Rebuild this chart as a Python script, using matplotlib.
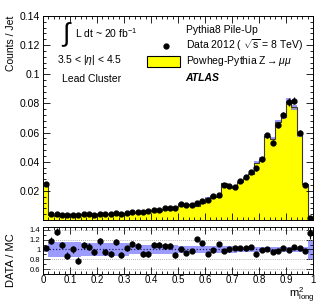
import numpy as np
import matplotlib
matplotlib.use("Agg")
import matplotlib.pyplot as plt
from matplotlib.ticker import MultipleLocator
from matplotlib.patches import Rectangle

plt.rcParams['font.family'] = ['Liberation Sans', 'DejaVu Sans']
plt.rcParams['mathtext.fontset'] = 'custom'
plt.rcParams['mathtext.rm'] = 'Liberation Sans'
plt.rcParams['mathtext.it'] = 'Liberation Sans:italic'

# binning: 50 bins of m^2_long in [0, 1]
bin_edges = np.linspace(0, 1, 51)

# data (Counts / Jet) per bin
data = [0.0247, 0.0040, 0.0038, 0.0036, 0.0033, 0.0036, 0.0031, 0.0040, 0.0038, 0.0036,
        0.0042, 0.0040, 0.0040, 0.0047, 0.0044, 0.0050, 0.0054, 0.0057, 0.0058, 0.0060,
        0.0068, 0.0071, 0.0080, 0.0082, 0.0080, 0.0112, 0.0100, 0.0100, 0.0118, 0.0133,
        0.0140, 0.0165, 0.0172, 0.0243, 0.0233, 0.0229, 0.0268, 0.0293, 0.0330, 0.0354,
        0.0416, 0.0583, 0.0530, 0.0650, 0.0720, 0.0810, 0.0820, 0.0600, 0.0240, 0.0016]

# Powheg-Pythia Z->mumu MC per bin
mc = [0.0238, 0.0034, 0.0028, 0.0033, 0.0038, 0.0036, 0.0040, 0.0037, 0.0036, 0.0038,
      0.0036, 0.0042, 0.0044, 0.0041, 0.0050, 0.0049, 0.0049, 0.0053, 0.0064, 0.0066,
      0.0062, 0.0065, 0.0075, 0.0077, 0.0090, 0.0112, 0.0108, 0.0103, 0.0097, 0.0118,
      0.0154, 0.0168, 0.0155, 0.0251, 0.0233, 0.0222, 0.0260, 0.0287, 0.0314, 0.0393,
      0.0420, 0.0577, 0.0558, 0.0670, 0.0706, 0.0818, 0.0774, 0.0583, 0.0250, 0.0012]

# uncertainty on the data/MC ratio points
ratio_err = [0.03, 0.07, 0.07, 0.07, 0.07, 0.07, 0.07, 0.07, 0.07, 0.07,
             0.07, 0.06, 0.06, 0.06, 0.06, 0.06, 0.06, 0.06, 0.06, 0.06,
             0.06, 0.06, 0.06, 0.06, 0.06, 0.045, 0.045, 0.045, 0.045, 0.045,
             0.045, 0.045, 0.045, 0.045, 0.045, 0.045, 0.045, 0.045, 0.045, 0.045,
             0.045, 0.03, 0.03, 0.03, 0.03, 0.03, 0.03, 0.03, 0.03, 0.12]

# relative MC uncertainty band shown in the ratio panel
band_rel = [0.05, 0.15, 0.15, 0.15, 0.15, 0.16, 0.16, 0.13, 0.13, 0.13,
            0.13, 0.13, 0.13, 0.13, 0.13, 0.13, 0.10, 0.10, 0.10, 0.10,
            0.10, 0.10, 0.10, 0.10, 0.10, 0.08, 0.08, 0.08, 0.08, 0.08,
            0.08, 0.08, 0.08, 0.08, 0.08, 0.08, 0.06, 0.06, 0.06, 0.06,
            0.06, 0.06, 0.06, 0.06, 0.06, 0.06, 0.06, 0.06, 0.06, 0.20]

data = np.array(data); mc = np.array(mc)
ratio_err = np.array(ratio_err); band_rel = np.array(band_rel)
centers = 0.5*(bin_edges[1:] + bin_edges[:-1])
ratio = data/mc

fig = plt.figure(figsize=(3.29, 3.05), dpi=100)
ax = fig.add_axes([0.1307, 0.2787, 0.8207, 0.6689])
rx = fig.add_axes([0.1307, 0.1016, 0.8207, 0.1541], sharex=ax)

yellow = '#ffff00'
blue = '#7777ff'
fs = 7.5

# main panel
ax.stairs(mc, bin_edges, fill=True, color=yellow, lw=0)
ax.stairs(mc*1.022, bin_edges, baseline=mc*0.978, fill=True, color=blue, alpha=0.75, lw=0)
ax.stairs(mc, bin_edges, color='#3a3a2a', lw=0.8)
ax.errorbar(centers, data, yerr=ratio_err*mc, fmt='o', color='black', ms=3.5, lw=0.8, capsize=0)
ax.set_xlim(0, 1)
ax.set_ylim(0, 0.14)
ax.set_yticks([0.02, 0.04, 0.06, 0.08, 0.1, 0.12, 0.14])
ax.set_yticklabels(['0.02', '0.04', '0.06', '0.08', '0.1', '0.12', '0.14'])
ax.yaxis.set_minor_locator(MultipleLocator(0.004))
ax.xaxis.set_major_locator(MultipleLocator(0.1))
ax.xaxis.set_minor_locator(MultipleLocator(0.02))
ax.tick_params(axis='x', labelbottom=False)
ax.set_ylabel('Counts / Jet', fontsize=fs, loc='top', labelpad=3)

# labels on the left
tr = ax.transAxes
ax.text(0.065, 0.91, r'$\int$', transform=tr, fontsize=19, va='center')
ax.text(0.118, 0.918, r'L dt ~ 20 fb$^{-1}$', transform=tr, fontsize=fs, va='center')
ax.text(0.05, 0.785, r'3.5 < |$\eta$| < 4.5', transform=tr, fontsize=fs, va='center')
ax.text(0.072, 0.693, 'Lead Cluster', transform=tr, fontsize=fs, va='center')

# legend, laid out like the ROOT one
tx = 0.528
ax.text(tx, 0.933, 'Pythia8 Pile-Up', transform=tr, fontsize=fs, va='center')
ax.plot([0.455], [0.855], 'o', color='black', ms=3.5, transform=tr, clip_on=False)
ax.text(tx, 0.855, r'Data 2012 ( $\sqrt{\rm s}$ = 8 TeV)', transform=tr, fontsize=fs, va='center')
ax.add_patch(Rectangle((0.385, 0.752), 0.122, 0.054, transform=tr,
                       facecolor=yellow, edgecolor='black', lw=0.8))
ax.text(tx, 0.779, r'Powheg-Pythia Z$\rightarrow\mu\mu$', transform=tr, fontsize=fs, va='center')
ax.text(tx, 0.698, 'ATLAS', transform=tr, fontsize=fs, va='center',
        fontweight='bold', fontstyle='italic')

# ratio panel
rx.stairs(1 + band_rel, bin_edges, baseline=1 - band_rel, fill=True, color='#8484ff', alpha=0.8, lw=0)
for yv in [0.6, 0.8, 1.2, 1.4]:
    rx.axhline(yv, color='#999999', ls=(0, (1, 1.5)), lw=0.6)
rx.axhline(1, color='#222266', ls=(0, (1, 1.5)), lw=0.9)
rx.errorbar(centers, ratio, yerr=ratio_err, fmt='o', color='black', ms=3.5, lw=0.8, capsize=0)
rx.set_ylim(0.5, 1.457)
rx.set_yticks([0.6, 0.8, 1, 1.2, 1.4])
rx.set_yticklabels(['0.6', '0.8', '1', '1.2', '1.4'])
rx.yaxis.set_minor_locator(MultipleLocator(0.1))
rx.set_xticks(np.arange(0, 1.01, 0.1))
rx.set_xticklabels(['0', '0.1', '0.2', '0.3', '0.4', '0.5', '0.6', '0.7', '0.8', '0.9', '1'])
rx.set_ylabel('DATA / MC', fontsize=8, labelpad=4)
rx.yaxis.set_label_coords(-0.1, 0.3)
fig.text(0.955, 0.0, r'm$^{2}_{\rm long}$', fontsize=8, ha='right', va='bottom')

for a in (ax, rx):
    a.tick_params(which='both', direction='in', top=True, right=True, width=0.6)
    a.tick_params(which='major', length=5)
    a.tick_params(which='minor', length=2.5)
    a.tick_params(axis='y', labelsize=fs if a is ax else 5.5, pad=2)
    a.tick_params(axis='x', labelsize=7, pad=1)
    for s in a.spines.values():
        s.set_linewidth(0.7)

fig.savefig('out.png', dpi=100)
